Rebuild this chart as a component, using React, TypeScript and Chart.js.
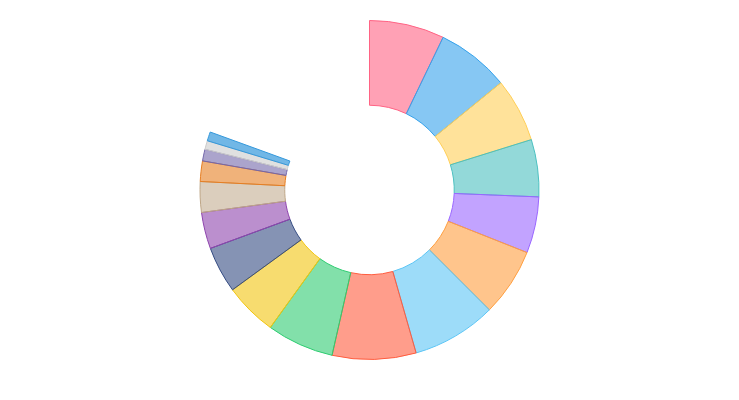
import { useEffect, useRef } from "react"
import { Chart, registerables } from "chart.js"

Chart.register(...registerables)

// slice labels and values (read as degrees of the ring)
const labels = [
  "A", "B", "C", "D", "E", "F", "G", "H", "I",
  "J", "K", "L", "M", "N", "O", "P", "Q",
]
const values = [25.7, 25.0, 21.9, 19.6, 19.3, 23.3, 29.0, 28.7, 23.0, 18.1, 15.9, 12.5, 10.5, 7.0, 4.0, 3.0, 3.1]

const baseColors = [
  [255, 99, 132],
  [54, 162, 235],
  [255, 206, 86],
  [75, 192, 192],
  [153, 102, 255],
  [255, 159, 64],
  [92, 197, 245],
  [255, 92, 62],
  [46, 204, 113],
  [241, 196, 15],
  [52, 75, 130],
  [142, 68, 173],
  [190, 166, 135],
  [230, 126, 34],
  [115, 103, 170],
  [203, 203, 203],
  [52, 152, 219],
]
const alphas = [0.6, 0.6, 0.6, 0.6, 0.6, 0.6, 0.6, 0.6, 0.6, 0.6, 0.6, 0.6, 0.55, 0.6, 0.6, 0.6, 0.7]

export default function App() {
  const canvasRef = useRef<HTMLCanvasElement>(null)
  const chartRef = useRef<Chart | null>(null)

  useEffect(() => {
    if (!canvasRef.current) return
    if (chartRef.current) chartRef.current.destroy()

    const fills = baseColors.map((c, i) => `rgba(${c[0]}, ${c[1]}, ${c[2]}, ${alphas[i]})`)
    const borders = baseColors.map((c) => `rgb(${c[0]}, ${c[1]}, ${c[2]})`)

    chartRef.current = new Chart(canvasRef.current, {
      type: "doughnut",
      data: {
        labels,
        datasets: [
          {
            data: values,
            backgroundColor: fills,
            borderColor: borders,
            borderWidth: 1,
          },
        ],
      },
      options: {
        animation: false,
        responsive: true,
        maintainAspectRatio: false,
        cutout: "50%",
        rotation: 0,
        circumference: 290,
        layout: { padding: 12 },
        plugins: {
          legend: { display: false },
          tooltip: { enabled: false },
        },
      },
    })

    return () => {
      if (chartRef.current) {
        chartRef.current.destroy()
        chartRef.current = null
      }
    }
  }, [])

  return (
    <div style={{ position: "relative", height: 364 }}>
      <canvas ref={canvasRef} />
    </div>
  )
}
